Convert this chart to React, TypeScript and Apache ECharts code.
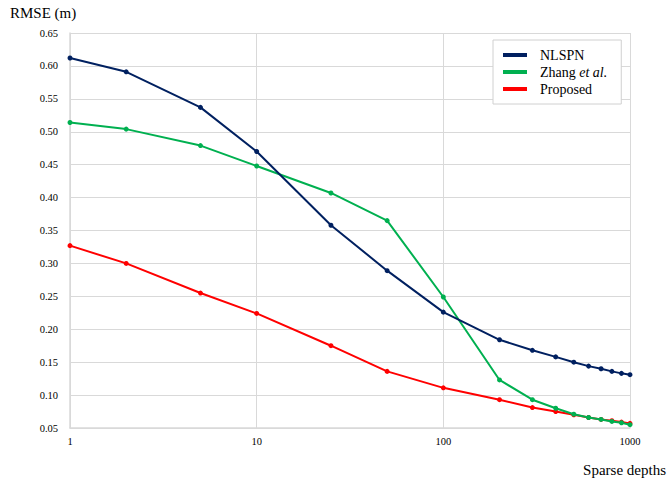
import React, { useEffect, useRef } from "react";
import * as echarts from "echarts";

const depths = [1, 2, 5, 10, 25, 50, 100, 200, 300, 400, 500, 600, 700, 800, 900, 1000];
const nlspn = [0.612, 0.591, 0.537, 0.47, 0.358, 0.289, 0.226, 0.184, 0.168, 0.158, 0.15, 0.144, 0.14, 0.136, 0.133, 0.131];
const zhang = [0.514, 0.504, 0.479, 0.448, 0.407, 0.365, 0.249, 0.123, 0.093, 0.08, 0.071, 0.066, 0.063, 0.06, 0.058, 0.055];
const proposed = [0.327, 0.3, 0.255, 0.224, 0.175, 0.136, 0.111, 0.093, 0.081, 0.075, 0.07, 0.066, 0.063, 0.061, 0.059, 0.057];

const seriesNames = ["NLSPN", "Zhang et al.", "Proposed"];
const seriesColors = ["#002060", "#00B050", "#FF0000"];
const seriesData = [nlspn, zhang, proposed];

const FONT = "Liberation Serif, DejaVu Serif";

export default function App() {
  const ref = useRef<HTMLDivElement>(null);

  useEffect(() => {
    if (!ref.current) return;
    const chart = echarts.init(ref.current, null, { renderer: "svg" });
    chart.setOption({
      animation: false,
      backgroundColor: "#fff",
      textStyle: { fontFamily: FONT },
      grid: { left: 70, right: 38, top: 33, bottom: 53 },
      legend: {
        left: 493,
        top: 40,
        orient: "vertical",
        backgroundColor: "#fff",
        borderColor: "#d0d0d0",
        borderWidth: 1,
        padding: [8, 14, 8, 10],
        itemGap: 3,
        itemWidth: 24,
        itemHeight: 4,
        icon: "rect",
        textStyle: {
          fontFamily: FONT,
          fontSize: 14,
          color: "#000",
          padding: [0, 0, 0, 8],
          rich: {
            n: { fontFamily: FONT, fontSize: 14, color: "#000" },
            i: { fontFamily: FONT, fontSize: 14, color: "#000", fontStyle: "italic" },
          },
        },
        formatter: (name: string) =>
          name === "Zhang et al." ? "{n|Zhang }{i|et al.}" : name,
        data: seriesNames,
      },
      graphic: [
        {
          type: "text",
          left: 10,
          top: 5,
          style: { text: "RMSE (m)", fontFamily: FONT, fontSize: 15, fill: "#000" },
        },
        {
          type: "text",
          right: 2,
          top: 462,
          style: { text: "Sparse depths", fontFamily: FONT, fontSize: 15, fill: "#000" },
        },
      ],
      xAxis: {
        type: "log",
        logBase: 10,
        min: 1,
        max: 1000,
        axisLine: { lineStyle: { color: "#d9d9d9", width: 1.5 } },
        axisTick: { show: false },
        minorTick: { show: false },
        axisLabel: {
          color: "#000",
          fontSize: 10.5,
          fontFamily: FONT,
          margin: 8,
          formatter: (v: number) => String(Math.round(v)),
        },
        splitLine: { show: true, lineStyle: { color: "#d9d9d9", width: 1 } },
      },
      yAxis: {
        type: "value",
        min: 0.05,
        max: 0.65,
        interval: 0.05,
        axisLine: { show: true, lineStyle: { color: "#d9d9d9", width: 1.5 } },
        axisTick: { show: false },
        axisLabel: {
          color: "#000",
          fontSize: 10.5,
          fontFamily: FONT,
          margin: 12,
          formatter: (v: number) => v.toFixed(2),
        },
        splitLine: { show: true, lineStyle: { color: "#d9d9d9", width: 1 } },
      },
      series: seriesNames.map((name, i) => ({
        name,
        type: "line",
        data: depths.map((d, j) => [d, seriesData[i][j]]),
        symbol: "circle",
        symbolSize: 5,
        lineStyle: { color: seriesColors[i], width: 2 },
        itemStyle: { color: seriesColors[i] },
        z: 3 - i,
      })),
    });
    return () => chart.dispose();
  }, []);

  return <div ref={ref} style={{ width: 668, height: 481, position: "absolute", left: 0, top: 0 }} />;
}
